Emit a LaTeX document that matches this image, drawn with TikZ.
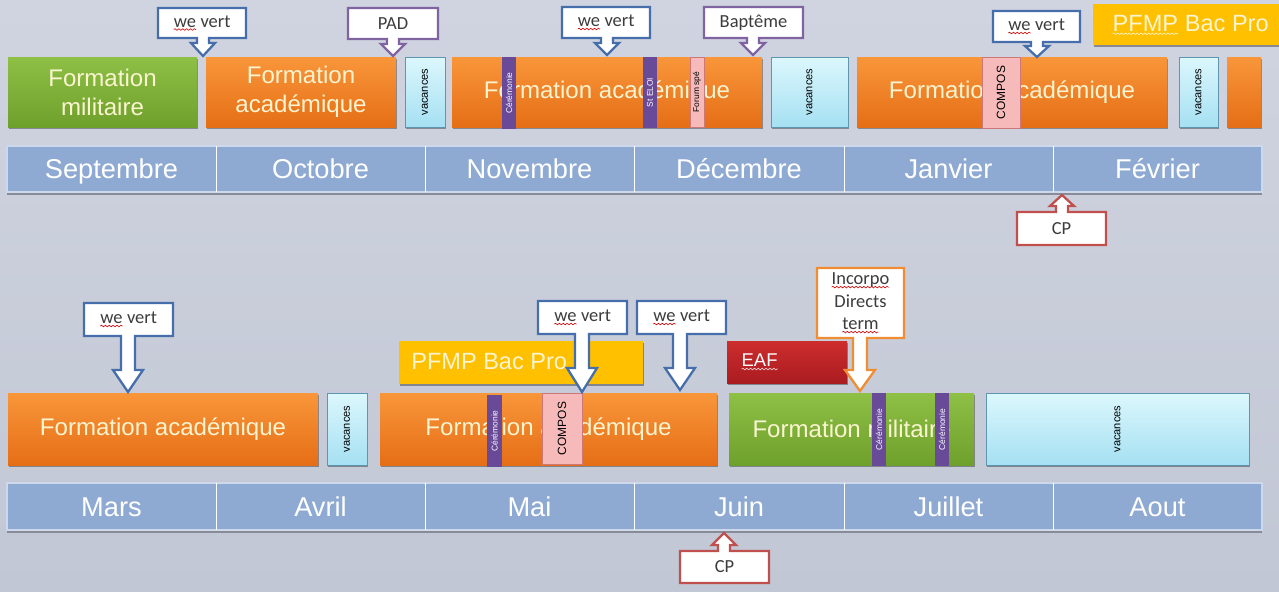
\documentclass[tikz,border=0pt]{standalone}
\usepackage{fontspec}
\setmainfont{Liberation Sans}
\newfontfamily\calib{Carlito}
\usepackage{graphicx}
\usetikzlibrary{shadows,decorations.pathmorphing}
\definecolor{bgtop}{RGB}{208,212,224}
\definecolor{bgbot}{RGB}{194,199,213}
\definecolor{monthc}{RGB}{143,170,210}
\definecolor{monthd}{RGB}{205,216,234}
\definecolor{shadowgray}{RGB}{135,140,152}
\definecolor{orangeT}{RGB}{249,150,58}
\definecolor{orangeB}{RGB}{229,110,22}
\definecolor{greenT}{RGB}{142,192,70}
\definecolor{greenB}{RGB}{110,160,44}
\definecolor{vacT}{RGB}{220,247,253}
\definecolor{vacB}{RGB}{165,224,242}
\definecolor{vacD}{RGB}{95,150,175}
\definecolor{purp}{RGB}{104,74,152}
\definecolor{pinkF}{RGB}{246,186,186}
\definecolor{pinkD}{RGB}{205,120,120}
\definecolor{pfmp}{RGB}{255,192,0}
\definecolor{eafT}{RGB}{205,45,45}
\definecolor{eafB}{RGB}{170,28,32}
\definecolor{cream}{RGB}{250,244,208}
\definecolor{cblue}{RGB}{70,110,170}
\definecolor{cpurp}{RGB}{128,100,162}
\definecolor{cred}{RGB}{192,80,77}
\definecolor{corange}{RGB}{240,140,50}
\definecolor{ctext}{RGB}{60,60,60}
\newcommand\bx[7]{\node[#6, minimum width={(#4-#2)*0.02cm}, minimum height={(#5-#3)*0.02cm}] (#1) at ({(#2+#4)/2},{(#3+#5)/2}) {#7};}
\newcommand\rot[1]{\rotatebox{90}{#1}}
\newcommand\csh{6}
\newcommand\chh{12}
\newcommand\callD[9]{%
 \draw[callline, draw=#2] (#3,#4) -- (#5,#4) -- (#5,#6) -- ({#7+\csh},#6) -- ({#7+\csh},#8) -- ({#7+\chh},#8) -- (#7,#9) -- ({#7-\chh},#8) -- ({#7-\csh},#8) -- ({#7-\csh},#6) -- (#3,#6) -- cycle;
 \coordinate (#1) at ({(#3+#5)/2},{(#4+#6)/2});}
\newcommand\callU[9]{%
 \draw[callline, draw=#2] (#3,#4) -- ({#7-\csh},#4) -- ({#7-\csh},#8) -- ({#7-\chh},#8) -- (#7,#9) -- ({#7+\chh},#8) -- ({#7+\csh},#8) -- ({#7+\csh},#4) -- (#5,#4) -- (#5,#6) -- (#3,#6) -- cycle;
 \coordinate (#1) at ({(#3+#5)/2},{(#4+#6)/2});}
\newcommand\sq[2][red!85!black]{\tikz[baseline=(sqw.base)]{\node[inner sep=0pt,outer sep=0pt] (sqw) {#2};\draw[#1, line width=0.35pt, decorate, decoration={snake, amplitude=0.45pt, segment length=2.2pt}] ([yshift=-1.4pt]sqw.base west) -- ([yshift=-1.4pt]sqw.base east);}}
\begin{document}
\begin{tikzpicture}[x=0.02cm,y=-0.02cm,
  blk/.style={inner sep=0pt, outer sep=0pt, drop shadow={shadow xshift=0.6pt, shadow yshift=-1.2pt, opacity=0.35, fill=black}},
  orangebox/.style={blk, top color=orangeT, bottom color=orangeB, text=cream, font=\fontsize{13.7}{16.5}\selectfont, align=center},
  greenbox/.style={blk, top color=greenT, bottom color=greenB, text=cream, font=\fontsize{13.7}{16.5}\selectfont, align=center},
  vacbox/.style={blk, top color=vacT, bottom color=vacB, draw=vacD, line width=0.5pt, text=black, font=\fontsize{6.3}{7}\selectfont},
  purpbar/.style={inner sep=0pt, fill=purp, text=white, font=\fontsize{4.8}{6}\selectfont},
  pinkbar/.style={inner sep=0pt, fill=pinkF, draw=pinkD, line width=0.5pt, text=black, font=\fontsize{6.8}{8}\selectfont},
  pfmpbox/.style={blk, fill=pfmp},
  pfmptext/.style={inner sep=0pt, anchor=west, text=cream, font=\fontsize{13.4}{16}\selectfont},
  eafbox/.style={blk, top color=eafT, bottom color=eafB},
  mbar/.style={inner sep=0pt, fill=monthc, draw=monthd, line width=0.6pt},
  mcell/.style={inner sep=0pt, text=white, text height=11.2pt, text depth=0pt, font=\fontsize{15.5}{18}\selectfont},
  callline/.style={fill=white, line width=1.3pt, line join=miter},
  calltext/.style={inner sep=0pt, text=ctext, font=\calib\fontsize{10.5}{12.8}\selectfont, align=center}]
\useasboundingbox (0,0) rectangle (1279,592);
\shade[top color=bgtop, bottom color=bgbot] (0,0) rectangle (1279,592);

% ---------- top month bar
\draw[shadowgray, line width=1.8pt] (7,193.5) -- (1262,193.5);
\bx{mtop}{7}{146}{1262}{192}{mbar}{}
\bx{sep}{7}{146}{216}{192}{mcell}{Septembre}
\bx{oct}{216}{146}{425}{192}{mcell}{Octobre}
\bx{nov}{425}{146}{634}{192}{mcell}{Novembre}
\bx{dec}{634}{146}{844}{192}{mcell}{Décembre}
\bx{jan}{844}{146}{1053}{192}{mcell}{Janvier}
\bx{fev}{1053}{146}{1262}{192}{mcell}{Février}
\foreach \m in {sep,oct,nov,dec,jan}{\draw[white, line width=0.8pt] (\m.north east) -- (\m.south east);}

% ---------- bottom month bar
\draw[shadowgray, line width=1.8pt] (7,531.5) -- (1262,531.5);
\bx{mbot}{7}{483}{1262}{530}{mbar}{}
\bx{mar}{7}{483}{216}{530}{mcell}{Mars}
\bx{avr}{216}{483}{425}{530}{mcell}{Avril}
\bx{mai}{425}{483}{634}{530}{mcell}{Mai}
\bx{jun}{634}{483}{844}{530}{mcell}{Juin}
\bx{jul}{844}{483}{1053}{530}{mcell}{Juillet}
\bx{aou}{1053}{483}{1262}{530}{mcell}{Aout}
\foreach \m in {mar,avr,mai,jun,jul}{\draw[white, line width=0.8pt] (\m.north east) -- (\m.south east);}

% ---------- top row blocks
\bx{fm1}{8}{57}{197}{127}{greenbox}{Formation\\militaire}
\bx{fa1}{206}{57}{396}{127}{orangebox}{Formation\\académique}
\bx{va1}{405}{57}{445}{127}{vacbox}{\rot{vacances}}
\bx{fa2}{452}{57}{762}{127}{orangebox}{Formation académique}
\bx{ce1}{502}{57}{516}{129}{purpbar}{\rot{Cérémonie}}
\bx{se1}{643}{57}{657}{128}{purpbar}{\rot{St ELOI}}
\bx{fs1}{690}{57}{704}{127}{pinkbar, font=\fontsize{4.8}{6}\selectfont}{\rot{Forum spé}}
\bx{va2}{771}{57}{848}{127}{vacbox}{\rot{vacances}}
\bx{fa3}{857}{57}{1167}{127}{orangebox}{Formation académique}
\bx{co1}{982}{57}{1020}{128}{pinkbar}{\rot{COMPOS}}
\bx{va3}{1179}{57}{1218}{127}{vacbox}{\rot{vacances}}
\bx{fa4}{1227}{57}{1261}{127}{orangebox}{}
\bx{pf1}{1093}{4}{1295}{45}{pfmpbox}{}
\node[pfmptext] (pf1t) at (1112,25) {\sq[cream]{PFMP} Bac Pro};

% ---------- bottom row blocks
\bx{fa5}{8}{393}{318}{465}{orangebox}{Formation académique}
\bx{va4}{327}{393}{367}{465}{vacbox}{\rot{vacances}}
\bx{fa6}{380}{393}{717}{465}{orangebox}{Formation académique}
\bx{ce2}{487}{395}{502}{467}{purpbar}{\rot{Cérémonie}}
\bx{co2}{542}{393}{582}{464}{pinkbar}{\rot{COMPOS}}
\bx{pf2}{399}{341}{643}{384}{pfmpbox}{}
\node[pfmptext] (pf2t) at (411,362) {PFMP Bac Pro};
\bx{eaf}{727}{341}{847}{383}{eafbox}{}
\node[inner sep=0pt, anchor=west, text=white, font=\fontsize{10.5}{12}\selectfont] (eaft) at (741,362) {\sq[white!85!red]{EAF}};
\bx{fm2}{729}{393}{974}{465}{greenbox}{Formation militaire}
\bx{ce3}{872}{393}{886}{466}{purpbar}{\rot{Cérémonie}}
\bx{ce4}{935}{393}{949}{466}{purpbar}{\rot{Cérémonie}}
\bx{va5}{986}{393}{1249}{465}{vacbox}{\rot{vacances}}

% ---------- top callouts
\callD{wv1}{cblue}{158}{8}{246}{38}{203}{43}{56}
\node[calltext] (wv1t) at (wv1) {\sq{we} vert};
\callD{pad}{cpurp}{348}{8}{438}{39}{393}{44}{56}
\node[calltext] (padt) at (pad) {PAD};
\callD{wv2}{cblue}{562}{7}{650}{38}{607}{43}{55}
\node[calltext] (wv2t) at (wv2) {\sq{we} vert};
\callD{bap}{cpurp}{704}{7}{803}{38}{753}{43}{55}
\node[calltext] (bapt) at (bap) {Baptême};
\callD{wv3}{cblue}{993}{11}{1080}{42}{1037}{46}{57}
\node[calltext] (wv3t) at (wv3) {\sq{we} vert};
\callU{cp1}{cred}{1017}{212}{1106}{245}{1062}{206}{195}
\node[calltext] (cp1t) at (cp1) {CP};
\callU{cp2}{cred}{680}{551}{769}{583}{724}{545}{533}
\node[calltext] (cp2t) at (cp2) {CP};

% ---------- bottom callouts
\renewcommand\csh{7}
\renewcommand\chh{15}
\callD{wv4}{cblue}{84}{303}{173}{336}{128}{370}{392}
\node[calltext] (wv4t) at (wv4) {\sq{we} vert};
\callD{wv5}{cblue}{538}{301}{627}{334}{582}{368}{392}
\node[calltext] (wv5t) at (wv5) {\sq{we} vert};
\callD{wv6}{cblue}{637}{301}{726}{334}{680}{368}{390}
\node[calltext] (wv6t) at (wv6) {\sq{we} vert};
\callD{inc}{corange}{817}{268}{904}{338}{860}{370}{391}
\node[calltext] (inct) at (inc) {\sq{Incorpo}\\Directs\\\sq{term}};
\end{tikzpicture}
\end{document}
